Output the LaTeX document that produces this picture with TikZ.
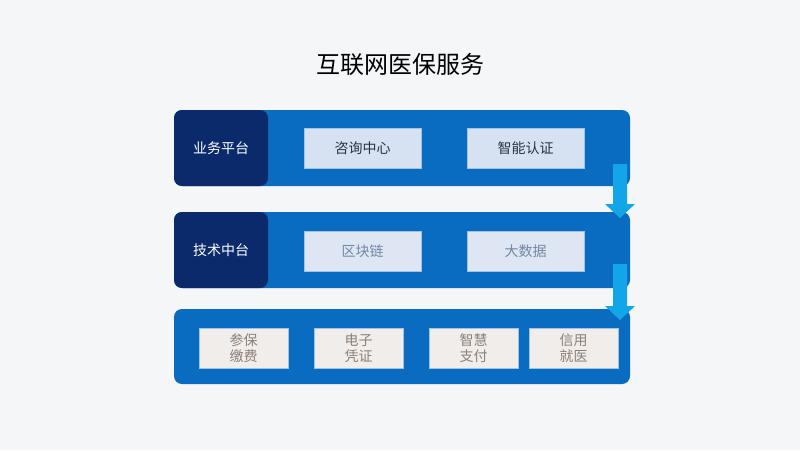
\documentclass[tikz,border=0pt]{standalone}
\usepackage{fontspec}
\setmainfont{Noto Sans CJK SC}
\begin{document}
\begin{tikzpicture}[x=1pt,y=-1pt,
 bar/.style={fill=bluebar,rounded corners=8pt},
 head/.style={fill=darkbar,rounded corners=8pt,text=white,font=\fontsize{14}{16}\selectfont},
 inbox/.style={draw=white!60!bluebar,line width=0.6pt,font=\fontsize{14}{16}\selectfont},
 arr/.style={fill=arrowc}]
\definecolor{bluebar}{HTML}{0A6CC0}
\definecolor{darkbar}{HTML}{0B2A6B}
\definecolor{arrowc}{HTML}{12A6E8}
\fill[fill={rgb,255:red,245;green,246;blue,248}] (0,0) rectangle (800,450);
\useasboundingbox (0,0) rectangle (800,450);
\node (title) at (400,64) {\fontsize{24}{28}\selectfont 互联网医保服务};
% bars
\fill[bar] (174,110) rectangle (630,186);
\fill[bar] (174,212) rectangle (630,288);
\fill[bar] (174,309) rectangle (630,384);
\node[head,minimum width=94pt,minimum height=76pt] (biz) at (221,148) {业务平台};
\node[head,minimum width=94pt,minimum height=76pt] (tech) at (221,250) {技术中台};
% row 1
\tikzset{r1/.style={inbox,fill={rgb,255:red,214;green,225;blue,241},text={rgb,255:red,40;green,50;blue,70},minimum width=117pt,minimum height=40pt}}
\node[r1] (zx) at (362.5,148) {咨询中心};
\node[r1] (zn) at (525.5,148) {智能认证};
% row 2
\tikzset{r2/.style={inbox,fill={rgb,255:red,221;green,230;blue,242},text={rgb,255:red,115;green,135;blue,165},minimum width=117pt,minimum height=40pt}}
\node[r2] (qkl) at (362.5,251) {区块链};
\node[r2] (dsj) at (525.5,251) {大数据};
% row 3
\tikzset{r3/.style={inbox,fill={rgb,255:red,240;green,237;blue,234},text={rgb,255:red,140;green,128;blue,120},minimum width=89pt,minimum height=40pt,align=center,font=\fontsize{14}{16}\selectfont}}
\node[r3] (cb) at (243.5,348) {参保\\缴费};
\node[r3] (dz) at (358.5,348) {电子\\凭证};
\node[r3] (zh) at (473.5,348) {智慧\\支付};
\node[r3] (xy) at (573.5,348) {信用\\就医};
% arrows
\fill[arr] (613,164) -- (627,164) -- (627,204) -- (635,204) -- (620,218) -- (605,204) -- (613,204) -- cycle;
\fill[arr] (613,264) -- (627,264) -- (627,306) -- (635,306) -- (620,320) -- (605,306) -- (613,306) -- cycle;
\end{tikzpicture}
\end{document}
